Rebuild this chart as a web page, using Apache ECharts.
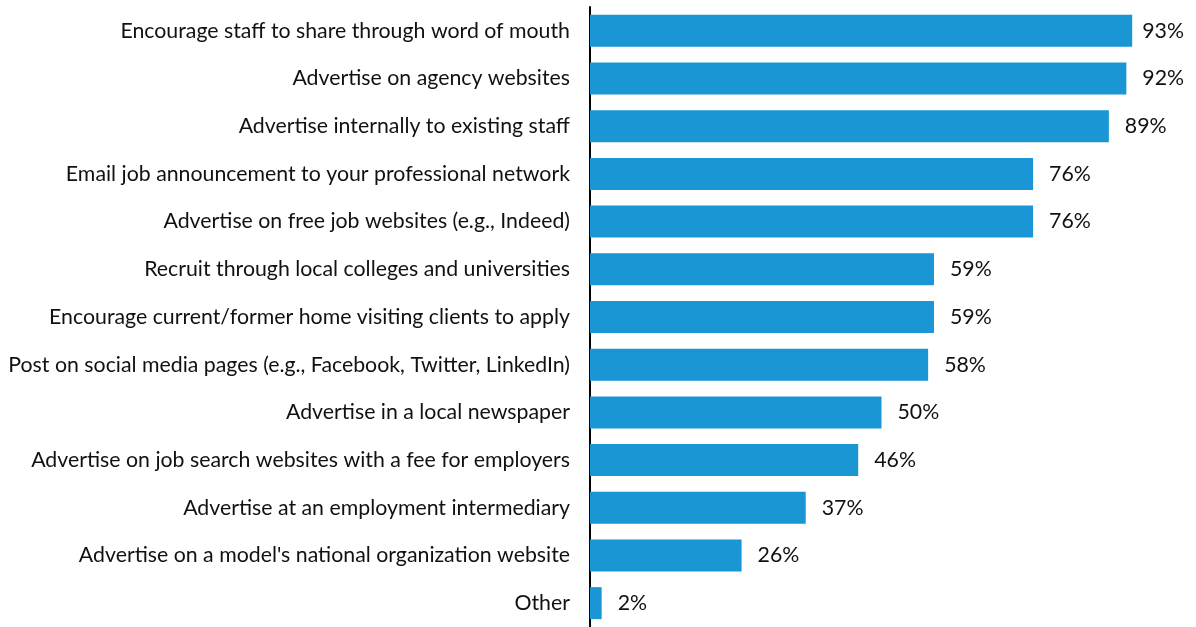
<!DOCTYPE html>
<html>
<head>
<meta charset="utf-8">
<script src="https://cdn.jsdelivr.net/npm/echarts@6/dist/echarts.min.js"></script>
<style>
  html, body { margin: 0; padding: 0; background: #fff; }
  #chart { width: 1196px; height: 627px; }
</style>
</head>
<body>
<div id="chart"></div>
<script>
// Recruitment strategies, share of respondents using each (%)
const categories = [
  "Encourage staff to share through word of mouth",
  "Advertise on agency websites",
  "Advertise internally to existing staff",
  "Email job announcement to your professional network",
  "Advertise on free job websites (e.g., Indeed)",
  "Recruit through local colleges and universities",
  "Encourage current/former home visiting clients to apply",
  "Post on social media pages (e.g., Facebook, Twitter, LinkedIn)",
  "Advertise in a local newspaper",
  "Advertise on job search websites with a fee for employers",
  "Advertise at an employment intermediary",
  "Advertise on a model's national organization website",
  "Other"
];
const values = [93, 92, 89, 76, 76, 59, 59, 58, 50, 46, 37, 26, 2];

// The longest bar's label sits a little closer so it stays inside the canvas
const barData = values.map((v, i) =>
  i === 0 ? { value: v, label: { distance: 10 } } : v
);

const chart = echarts.init(document.getElementById('chart'));
chart.setOption({
  animation: false,
  grid: { left: 590, top: 7, width: 583, bottom: 0, containLabel: false },
  xAxis: {
    type: 'value', min: 0, max: 100,
    show: false
  },
  yAxis: {
    type: 'category',
    data: categories,
    inverse: true,
    axisLine: { show: true, lineStyle: { color: '#000', width: 2 } },
    axisTick: { show: false },
    axisLabel: {
      color: '#111', fontFamily: 'Lato', fontSize: 21.3, margin: 20
    }
  },
  series: [{
    type: 'bar',
    data: barData,
    barWidth: 32,
    itemStyle: { color: '#1996d3' },
    label: {
      show: true, position: 'right', distance: 16,
      formatter: '{c}%', color: '#111', fontFamily: 'Lato', fontSize: 21.3
    }
  }]
});
</script>
</body>
</html>
